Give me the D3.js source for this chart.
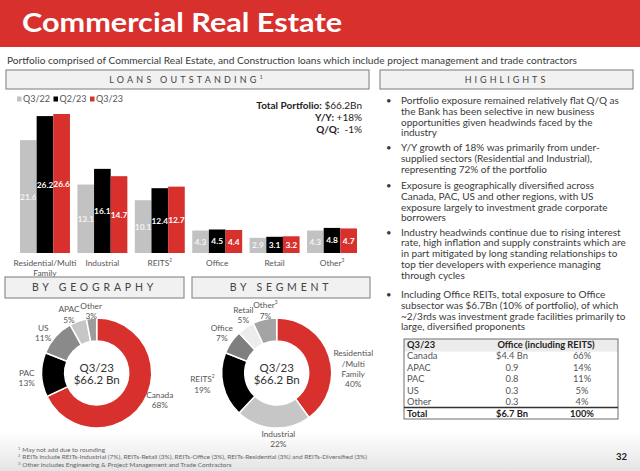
<!DOCTYPE html>
<html>
<head>
<meta charset="utf-8">
<script src="https://cdn.jsdelivr.net/npm/d3@7"></script>
<style>
  body { margin: 0; background: #fff; }
  svg { display: block; font-family: "Lato", "Open Sans", sans-serif; }
</style>
</head>
<body>
<div id="slide"></div>
<script>
// slide size
var svgWidth = 640;
var svgHeight = 471;

// loans outstanding data (Bn)
var categories = ["Residential/Multi Family", "Industrial", "REITS", "Office", "Retail", "Other"];
var categoryLines = [["Residential/Multi", "Family"], ["Industrial"], ["REITS"], ["Office"], ["Retail"], ["Other"]];
var categorySup = ["", "", "2", "", "", "3"];
var series = ["Q3/22", "Q2/23", "Q3/23"];
var q322 = [21.6, 13.1, 10.1, 4.3, 2.9, 4.3];
var q223 = [26.2, 16.1, 12.4, 4.5, 3.1, 4.8];
var q323 = [26.6, 14.7, 12.7, 4.4, 3.2, 4.7];

// donuts (%)
var geoLabels = ["Canada", "PAC", "US", "APAC", "Other"];
var geoValues = [68, 13, 11, 5, 3];
var segLabels = [["Residential", "/Multi", "Family"], ["Industrial"], ["REITS"], ["Office"], ["Retail"], ["Other"]];
var segSup = ["", "", "2", "", "", "3"];
var segValues = [40, 22, 19, 7, 5, 7];

// office table
var tableRegions = ["Canada", "APAC", "PAC", "US", "Other"];
var tableAmounts = ["$4.4 Bn", "0.9", "0.8", "0.3", "0.3"];
var tablePct = ["66%", "14%", "11%", "5%", "4%"];
var tableTotal = ["Total", "$6.7 Bn", "100%"];

var highlights = [
    ["Portfolio exposure remained relatively flat Q/Q as", "the Bank has been selective in new business", "opportunities given headwinds faced by the", "industry"],
    ["Y/Y growth of 18% was primarily from under-", "supplied sectors (Residential and Industrial),", "representing 72% of the portfolio"],
    ["Exposure is geographically diversified across", "Canada, PAC, US and other regions, with US", "exposure largely to investment grade corporate", "borrowers"],
    ["Industry headwinds continue due to rising interest", "rate, high inflation and supply constraints which are", "in part mitigated by long standing relationships to", "top tier developers with experience managing", "through cycles"],
    ["Including Office REITs, total exposure to Office", "subsector was $6.7Bn (10% of portfolio), of which", "~2/3rds was investment grade facilities primarily to", "large, diversified proponents"]
];

var footnotes = [
    ["1", "May not add due to rounding"],
    ["2", "REITs include REITs-Industrial (7%), REITs-Retail (3%), REITs-Office (3%), REITs-Residential (3%) and REITs-Diversified (3%)"],
    ["3", "Other includes Engineering & Project Management and Trade Contractors"]
];

var red = "#d7302d";
var textColor = "#3a3a3a";

var svg = d3.select("#slide")
    .append("svg")
    .attr("width", svgWidth)
    .attr("height", svgHeight);

var defs = svg.append("defs");
var grad = defs.append("linearGradient").attr("id", "bottomFade")
    .attr("x1", 0).attr("y1", 0).attr("x2", 0).attr("y2", 1);
grad.append("stop").attr("offset", "0%").attr("stop-color", "#ffffff");
grad.append("stop").attr("offset", "100%").attr("stop-color", "#e4e4e4");

svg.append("rect").attr("x", 0).attr("y", 432).attr("width", svgWidth).attr("height", 39)
    .attr("fill", "url(#bottomFade)");

// title band
svg.append("rect").attr("x", 0).attr("y", 0).attr("width", svgWidth).attr("height", 47).attr("fill", red);
svg.append("text")
    .attr("x", 22).attr("y", 32)
    .attr("font-size", 27).attr("font-weight", 700)
    .attr("fill", "#fff")
    .attr("textLength", 320).attr("lengthAdjust", "spacingAndGlyphs")
    .text("Commercial Real Estate");

svg.append("text")
    .attr("x", 7).attr("y", 64)
    .attr("font-size", 10.2).attr("fill", textColor)
    .attr("textLength", 570).attr("lengthAdjust", "spacingAndGlyphs")
    .text("Portfolio comprised of Commercial Real Estate, and Construction loans which include project management and trade contractors");

// section header boxes
function headerBox(x, y, w, h, label, sup, fs, ls) {
    svg.append("rect").attr("x", x).attr("y", y).attr("width", w).attr("height", h)
        .attr("fill", "#f1f1f1").attr("stroke", "#8f8f8f").attr("stroke-width", 1.2);
    var t = svg.append("text")
        .attr("x", x + w / 2).attr("y", y + h / 2 + fs * 0.36)
        .attr("text-anchor", "middle")
        .attr("font-size", fs).attr("letter-spacing", ls)
        .attr("fill", "#444")
        .text(label);
    if (sup) {
        t.append("tspan").attr("font-size", fs * 0.55).attr("dy", -fs * 0.4).text(sup);
    }
}
headerBox(6, 70, 363, 19, "LOANS OUTSTANDING", "1", 9, 3.2);
headerBox(380, 70, 253, 19, "HIGHLIGHTS", "", 9, 3);
headerBox(5, 277, 179, 21, "BY GEOGRAPHY", "", 10.5, 3.8);
headerBox(192, 277, 178, 21, "BY SEGMENT", "", 10.5, 3.8);

// ---- bar chart ----
var barData = categories.map(function (c, i) {
    return { cat: c, values: [q322[i], q223[i], q323[i]] };
});

var x0 = d3.scaleBand().domain(categories).range([20, 357]).paddingInner(0.13).paddingOuter(0);
var x1 = d3.scaleBand().domain(series).range([0, x0.bandwidth()]);
var yScale = d3.scaleLinear().domain([0, 26.6]).range([253, 114]);
var barColor = d3.scaleOrdinal().domain(series).range(["#c2c2c2", "#000000", red]);

var groups = svg.append("g").selectAll("g")
    .data(barData)
    .enter()
    .append("g")
    .attr("transform", d => `translate(${x0(d.cat)},0)`);

var cells = groups.selectAll("g")
    .data(d => d.values.map((v, j) => ({ s: series[j], v: v })))
    .enter()
    .append("g");

cells.append("rect")
    .attr("x", d => x1(d.s))
    .attr("y", d => yScale(d.v))
    .attr("width", x1.bandwidth())
    .attr("height", d => yScale(0) - yScale(d.v))
    .attr("fill", d => barColor(d.s));

cells.append("text")
    .attr("x", d => x1(d.s) + x1.bandwidth() / 2)
    .attr("y", d => (yScale(d.v) + yScale(0)) / 2 + 3)
    .attr("text-anchor", "middle")
    .attr("font-size", 8.4).attr("font-weight", 700)
    .attr("fill", d => d.s === "Q3/22" ? "#f4f4f4" : "#fff")
    .text(d => d.v.toFixed(1));

// category labels
var catLabels = svg.append("g").selectAll("text")
    .data(categories)
    .enter()
    .append("text")
    .attr("x", d => x0(d) + x0.bandwidth() / 2)
    .attr("y", 266)
    .attr("text-anchor", "middle")
    .attr("font-size", 8.3).attr("fill", "#555");

catLabels.each(function (d, i) {
    var t = d3.select(this);
    categoryLines[i].forEach(function (line, k) {
        t.append("tspan").attr("x", x0(d) + x0.bandwidth() / 2).attr("dy", k === 0 ? 0 : 9.5).text(line);
    });
    if (categorySup[i]) {
        t.append("tspan").attr("font-size", 4.8).attr("dy", -4).text(categorySup[i]);
    }
});

// legend
var legend = svg.append("g").selectAll("g")
    .data(series)
    .enter()
    .append("g")
    .attr("transform", (d, i) => `translate(${17 + i * 36.5},99)`);
legend.append("rect").attr("x", 0).attr("y", -2.5).attr("width", 4.5).attr("height", 5)
    .attr("fill", d => barColor(d));
legend.append("text").attr("x", 6).attr("y", 3.3)
    .attr("font-size", 9).attr("fill", "#555")
    .text(d => d);

// total portfolio block
var totals = [["Total Portfolio:", " $66.2Bn"], ["Y/Y:", " +18%"], ["Q/Q:", "  -1%"]];
totals.forEach(function (t, i) {
    var tx = svg.append("text")
        .attr("x", 362).attr("y", 109 + i * 12)
        .attr("text-anchor", "end")
        .attr("font-size", 10).attr("fill", "#222")
        .attr("xml:space", "preserve");
    tx.append("tspan").attr("font-weight", 700).text(t[0]);
    tx.append("tspan").text(t[1]);
});

// ---- highlights ----
var paraTops = [104, 151, 189, 235.5, 298];
highlights.forEach(function (para, i) {
    svg.append("text").attr("x", 386).attr("y", paraTops[i])
        .attr("font-size", 9.5).attr("fill", textColor).text("•");
    para.forEach(function (line, k) {
        svg.append("text")
            .attr("x", 401).attr("y", paraTops[i] + k * 10.8)
            .attr("font-size", 10).attr("fill", textColor)
            .text(line);
    });
});

// ---- office table ----
var tblX = 404, tblW = 214, tblTop = 339, rowH = 11.6;
svg.append("rect").attr("x", tblX).attr("y", tblTop).attr("width", tblW).attr("height", rowH + 1)
    .attr("fill", "#ececec");
svg.append("rect").attr("x", tblX).attr("y", tblTop).attr("width", tblW).attr("height", 80)
    .attr("fill", "none").attr("stroke", "#6f6f6f").attr("stroke-width", 1);
svg.append("line").attr("x1", tblX).attr("x2", tblX + tblW)
    .attr("y1", tblTop + 68.5).attr("y2", tblTop + 68.5)
    .attr("stroke", "#333").attr("stroke-width", 1.4);

var colX = [407, 512, 582];
var header = svg.append("g").attr("font-size", 9.3).attr("font-weight", 700).attr("fill", "#222");
header.append("text").attr("x", colX[0]).attr("y", tblTop + 9).text("Q3/23");
header.append("text").attr("x", 546).attr("y", tblTop + 9).attr("text-anchor", "middle").text("Office (including REITS)");

var rows = svg.append("g").selectAll("g")
    .data(tableRegions)
    .enter()
    .append("g")
    .attr("font-size", 9.3).attr("fill", "#555")
    .attr("transform", (d, i) => `translate(0,${tblTop + 20 + i * rowH})`);
rows.append("text").attr("x", colX[0]).text(d => d);
rows.append("text").attr("x", colX[1]).attr("text-anchor", "middle").text((d, i) => tableAmounts[i]);
rows.append("text").attr("x", colX[2]).attr("text-anchor", "middle").text((d, i) => tablePct[i]);

var totalRow = svg.append("g").attr("font-size", 9.3).attr("font-weight", 700).attr("fill", "#222")
    .attr("transform", `translate(0,${tblTop + 77.5})`);
totalRow.append("text").attr("x", colX[0]).text(tableTotal[0]);
totalRow.append("text").attr("x", colX[1]).attr("text-anchor", "middle").text(tableTotal[1]);
totalRow.append("text").attr("x", colX[2]).attr("text-anchor", "middle").text(tableTotal[2]);

// ---- donuts ----
// labels sit on an ellipse round the ring, with small nudges like the slide's hand placement
function donut(cx, cy, values, labels, sups, colors, nudge) {
    var pie = d3.pie().sort(null).value(d => d);
    var arc = d3.arc().innerRadius(32).outerRadius(55);
    var g = svg.append("g").attr("transform", `translate(${cx},${cy})`);
    var arcs = pie(values);

    g.selectAll("path")
        .data(arcs)
        .enter()
        .append("path")
        .attr("d", arc)
        .attr("fill", (d, i) => colors[i])
        .attr("stroke", "#fff")
        .attr("stroke-width", 1.5);

    g.selectAll(".lbl")
        .data(arcs)
        .enter()
        .append("text")
        .attr("class", "lbl")
        .attr("text-anchor", "middle")
        .attr("font-size", 8.3).attr("fill", "#555")
        .each(function (d, i) {
            var mid = (d.startAngle + d.endAngle) / 2;
            var lx = 70 * Math.sin(mid) + nudge[i][0];
            var ly = -62 * Math.cos(mid) + nudge[i][1];
            var lines = labels[i].concat([d.data + "%"]);
            var t = d3.select(this);
            var y0 = ly - (lines.length - 1) * 10.4 / 2 + 3;
            lines.forEach(function (line, k) {
                t.append("tspan").attr("x", lx).attr("y", y0 + k * 10.4).text(line);
                if (k === 0 && sups[i]) {
                    t.append("tspan").attr("font-size", 4.8).attr("dy", -4).text(sups[i]);
                }
            });
        });

    var center = g.append("text").attr("text-anchor", "middle").attr("font-size", 11.5).attr("fill", "#333");
    center.append("tspan").attr("x", 0).attr("y", -1).text("Q3/23");
    center.append("tspan").attr("x", 0).attr("y", 11).text("$66.2 Bn");
}

donut(96.7, 373, geoValues, geoLabels.map(d => [d]), ["", "", "", "", ""],
    [red, "#000000", "#8a8a8a", "#c6c6c6", "#9c9c9c"],
    [[4, -6], [0, 3], [-1, 1], [-4, 0], [1, 0]]);
donut(276.7, 373, segValues, segLabels, segSup,
    [red, "#c6c6c6", "#000000", "#7f7f7f", "#ececec", "#a4a4a4"],
    [[10, 15], [6, 4], [-6, -2], [3, -5], [6, -7], [4, -2]]);

// ---- footnotes & page number ----
footnotes.forEach(function (f, i) {
    var t = svg.append("text").attr("x", 18).attr("y", 452 + i * 7.4)
        .attr("font-size", 6.5).attr("fill", "#666");
    t.append("tspan").attr("font-size", 4).attr("dy", -2).text(f[0]);
    t.append("tspan").attr("dx", 2).attr("dy", 2).text(f[1]);
});

svg.append("text").attr("x", 627).attr("y", 460)
    .attr("text-anchor", "end")
    .attr("font-size", 9.5).attr("font-weight", 700).attr("fill", "#222")
    .text("32");
</script>
</body>
</html>
